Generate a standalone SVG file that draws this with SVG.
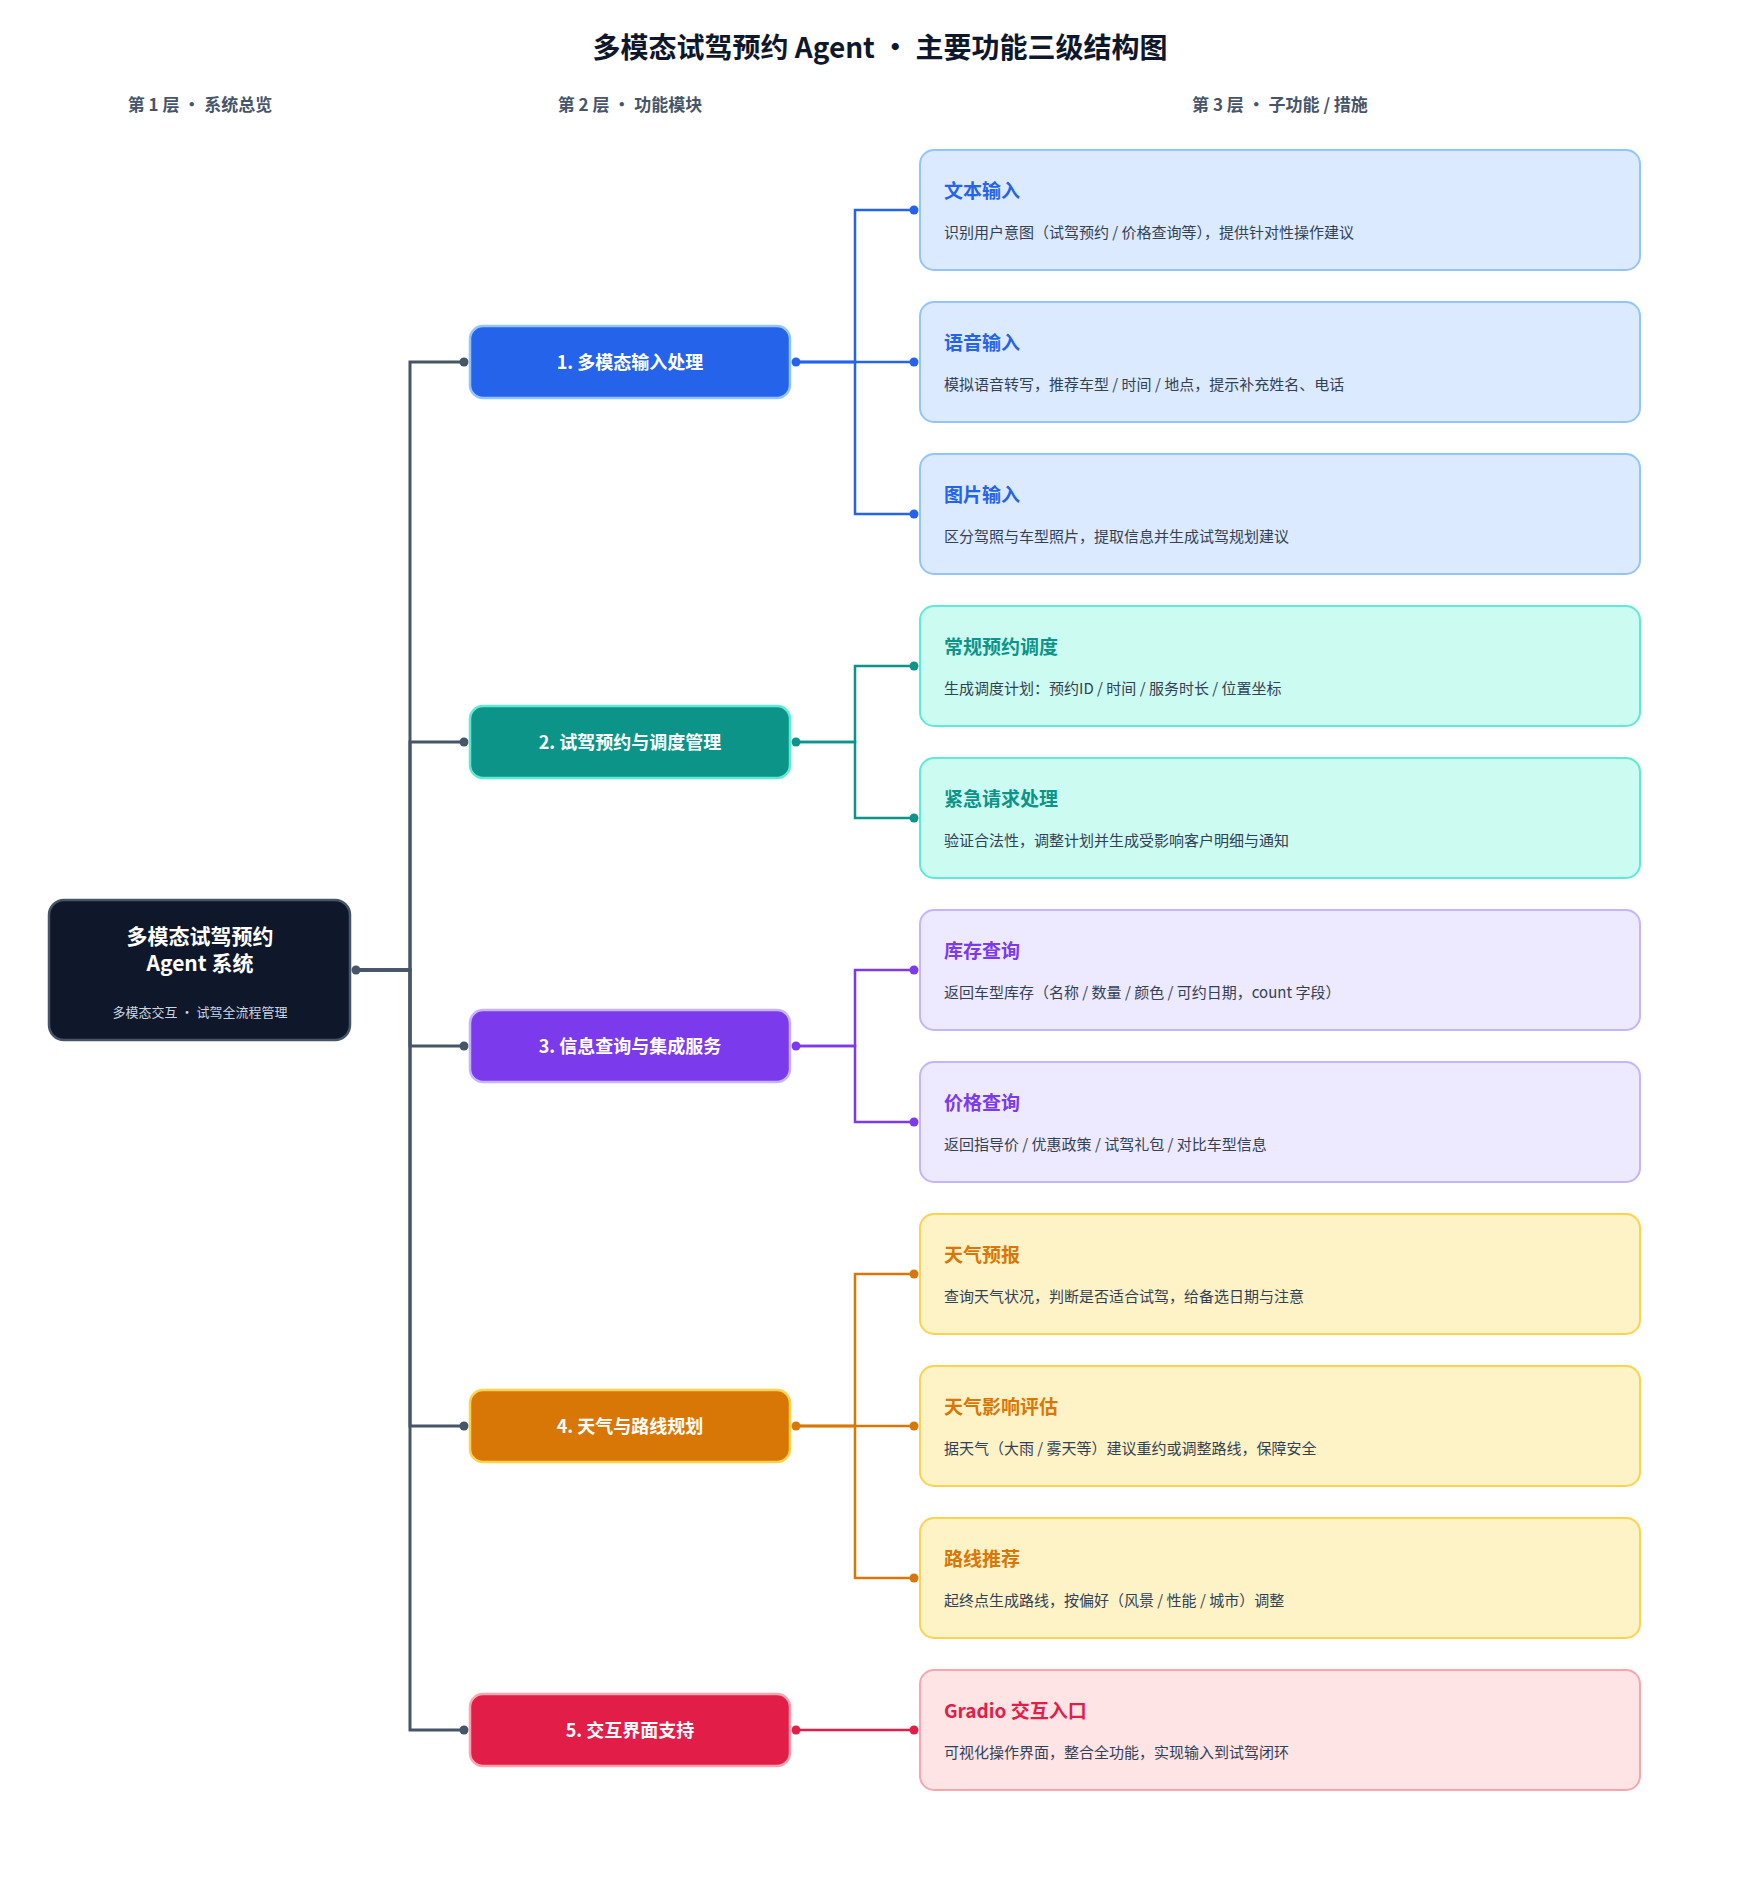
<svg xmlns="http://www.w3.org/2000/svg" width="1760" height="1880" viewBox="0 0 1760 1880">
<style>
text{font-family:"Noto Sans CJK SC","Noto Sans",sans-serif}
.title{font-size:28px;font-weight:700;fill:#0f172a}
.col{font-size:17px;font-weight:700;fill:#475569}
.rootT{font-size:21px;font-weight:700;fill:#ffffff}
.rootS{font-size:13px;fill:#cbd5e1}
.l2t{font-size:18px;font-weight:700;fill:#ffffff}
.l3t{font-size:19px;font-weight:700}
.l3d{font-size:15px;fill:#334155}
.l2{stroke-width:2.5}
.l3{stroke-width:2}
.c{fill:none;stroke-width:2.5}
.blue .l2{fill:#2563eb;stroke:#93c5fd}
.blue .l3{fill:#dbeafe;stroke:#93c5fd}
.blue .l3t{fill:#2563eb}
.teal .l2{fill:#0d9488;stroke:#5eead4}
.teal .l3{fill:#ccfbf1;stroke:#5eead4}
.teal .l3t{fill:#0d9488}
.purple .l2{fill:#7c3aed;stroke:#c4b5fd}
.purple .l3{fill:#ede9fe;stroke:#c4b5fd}
.purple .l3t{fill:#7c3aed}
.orange .l2{fill:#d97706;stroke:#fcd34d}
.orange .l3{fill:#fef3c7;stroke:#fcd34d}
.orange .l3t{fill:#d97706}
.red .l2{fill:#e11d48;stroke:#fda4af}
.red .l3{fill:#ffe4e6;stroke:#fda4af}
.red .l3t{fill:#e11d48}
</style>
<rect width="1760" height="1880" fill="#ffffff"/>
<text class="title" x="880" y="58" text-anchor="middle">多模态试驾预约 Agent · 主要功能三级结构图</text>
<text class="col" x="200" y="111" text-anchor="middle">第 1 层 · 系统总览</text>
<text class="col" x="630" y="111" text-anchor="middle">第 2 层 · 功能模块</text>
<text class="col" x="1280" y="111" text-anchor="middle">第 3 层 · 子功能 / 措施</text>

<g id="connectors">
  <g stroke="#475569" fill="none" stroke-width="3">
    <path d="M356 970 H410 V362 H464"/>
    <path d="M356 970 H410 V742 H464"/>
    <path d="M356 970 H410 V1046 H464"/>
    <path d="M356 970 H410 V1426 H464"/>
    <path d="M356 970 H410 V1730 H464"/>
  </g>
  <g fill="#475569">
    <circle cx="356" cy="970" r="4.5"/>
    <circle cx="464" cy="362" r="4.5"/>
    <circle cx="464" cy="742" r="4.5"/>
    <circle cx="464" cy="1046" r="4.5"/>
    <circle cx="464" cy="1426" r="4.5"/>
    <circle cx="464" cy="1730" r="4.5"/>
  </g>
  <g stroke="#2563eb" class="c">
    <path d="M796 362 H855 V210 H914"/>
    <path d="M796 362 H914"/>
    <path d="M796 362 H855 V514 H914"/>
  </g>
  <g fill="#2563eb">
    <circle cx="796" cy="362" r="4.5"/><circle cx="914" cy="210" r="4.5"/><circle cx="914" cy="362" r="4.5"/><circle cx="914" cy="514" r="4.5"/>
  </g>
  <g stroke="#0d9488" class="c">
    <path d="M796 742 H855 V666 H914"/>
    <path d="M796 742 H855 V818 H914"/>
  </g>
  <g fill="#0d9488">
    <circle cx="796" cy="742" r="4.5"/><circle cx="914" cy="666" r="4.5"/><circle cx="914" cy="818" r="4.5"/>
  </g>
  <g stroke="#7c3aed" class="c">
    <path d="M796 1046 H855 V970 H914"/>
    <path d="M796 1046 H855 V1122 H914"/>
  </g>
  <g fill="#7c3aed">
    <circle cx="796" cy="1046" r="4.5"/><circle cx="914" cy="970" r="4.5"/><circle cx="914" cy="1122" r="4.5"/>
  </g>
  <g stroke="#d97706" class="c">
    <path d="M796 1426 H855 V1274 H914"/>
    <path d="M796 1426 H914"/>
    <path d="M796 1426 H855 V1578 H914"/>
  </g>
  <g fill="#d97706">
    <circle cx="796" cy="1426" r="4.5"/><circle cx="914" cy="1274" r="4.5"/><circle cx="914" cy="1426" r="4.5"/><circle cx="914" cy="1578" r="4.5"/>
  </g>
  <g stroke="#e11d48" class="c">
    <path d="M796 1730 H914"/>
  </g>
  <g fill="#e11d48">
    <circle cx="796" cy="1730" r="4.5"/><circle cx="914" cy="1730" r="4.5"/>
  </g>
</g>

<g id="root">
  <rect x="49" y="900" width="301" height="140" rx="15" fill="#0f172a" stroke="#475569" stroke-width="2.5"/>
  <text class="rootT" x="200" y="944" text-anchor="middle">多模态试驾预约</text>
  <text class="rootT" x="200" y="971" text-anchor="middle">Agent 系统</text>
  <text class="rootS" x="200" y="1017" text-anchor="middle">多模态交互 · 试驾全流程管理</text>
</g>

<g class="blue">
  <g id="m1"><rect class="l2" x="470" y="326" width="320" height="72" rx="13"/><text class="l2t" x="630" y="369" text-anchor="middle">1. 多模态输入处理</text></g>
  <g id="m1a"><rect class="l3" x="920" y="150" width="720" height="120" rx="14"/><text class="l3t" x="944" y="198">文本输入</text><text class="l3d" x="944" y="238">识别用户意图（试驾预约 / 价格查询等），提供针对性操作建议</text></g>
  <g id="m1b"><rect class="l3" x="920" y="302" width="720" height="120" rx="14"/><text class="l3t" x="944" y="350">语音输入</text><text class="l3d" x="944" y="390">模拟语音转写，推荐车型 / 时间 / 地点，提示补充姓名、电话</text></g>
  <g id="m1c"><rect class="l3" x="920" y="454" width="720" height="120" rx="14"/><text class="l3t" x="944" y="502">图片输入</text><text class="l3d" x="944" y="542">区分驾照与车型照片，提取信息并生成试驾规划建议</text></g>
</g>

<g class="teal">
  <g id="m2"><rect class="l2" x="470" y="706" width="320" height="72" rx="13"/><text class="l2t" x="630" y="749" text-anchor="middle">2. 试驾预约与调度管理</text></g>
  <g id="m2a"><rect class="l3" x="920" y="606" width="720" height="120" rx="14"/><text class="l3t" x="944" y="654">常规预约调度</text><text class="l3d" x="944" y="694">生成调度计划：预约ID / 时间 / 服务时长 / 位置坐标</text></g>
  <g id="m2b"><rect class="l3" x="920" y="758" width="720" height="120" rx="14"/><text class="l3t" x="944" y="806">紧急请求处理</text><text class="l3d" x="944" y="846">验证合法性，调整计划并生成受影响客户明细与通知</text></g>
</g>

<g class="purple">
  <g id="m3"><rect class="l2" x="470" y="1010" width="320" height="72" rx="13"/><text class="l2t" x="630" y="1053" text-anchor="middle">3. 信息查询与集成服务</text></g>
  <g id="m3a"><rect class="l3" x="920" y="910" width="720" height="120" rx="14"/><text class="l3t" x="944" y="958">库存查询</text><text class="l3d" x="944" y="998">返回车型库存（名称 / 数量 / 颜色 / 可约日期，count 字段）</text></g>
  <g id="m3b"><rect class="l3" x="920" y="1062" width="720" height="120" rx="14"/><text class="l3t" x="944" y="1110">价格查询</text><text class="l3d" x="944" y="1150">返回指导价 / 优惠政策 / 试驾礼包 / 对比车型信息</text></g>
</g>

<g class="orange">
  <g id="m4"><rect class="l2" x="470" y="1390" width="320" height="72" rx="13"/><text class="l2t" x="630" y="1433" text-anchor="middle">4. 天气与路线规划</text></g>
  <g id="m4a"><rect class="l3" x="920" y="1214" width="720" height="120" rx="14"/><text class="l3t" x="944" y="1262">天气预报</text><text class="l3d" x="944" y="1302">查询天气状况，判断是否适合试驾，给备选日期与注意</text></g>
  <g id="m4b"><rect class="l3" x="920" y="1366" width="720" height="120" rx="14"/><text class="l3t" x="944" y="1414">天气影响评估</text><text class="l3d" x="944" y="1454">据天气（大雨 / 雾天等）建议重约或调整路线，保障安全</text></g>
  <g id="m4c"><rect class="l3" x="920" y="1518" width="720" height="120" rx="14"/><text class="l3t" x="944" y="1566">路线推荐</text><text class="l3d" x="944" y="1606">起终点生成路线，按偏好（风景 / 性能 / 城市）调整</text></g>
</g>

<g class="red">
  <g id="m5"><rect class="l2" x="470" y="1694" width="320" height="72" rx="13"/><text class="l2t" x="630" y="1737" text-anchor="middle">5. 交互界面支持</text></g>
  <g id="m5a"><rect class="l3" x="920" y="1670" width="720" height="120" rx="14"/><text class="l3t" x="944" y="1718">Gradio 交互入口</text><text class="l3d" x="944" y="1758">可视化操作界面，整合全功能，实现输入到试驾闭环</text></g>
</g>
</svg>
